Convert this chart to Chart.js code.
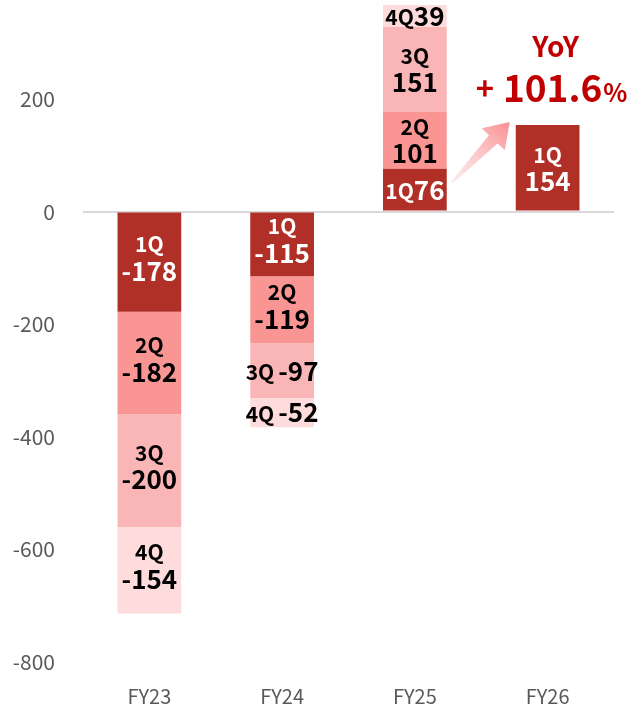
<!DOCTYPE html>
<html>
<head>
<meta charset="utf-8">
<script src="https://cdn.jsdelivr.net/npm/chart.js@4.4.1/dist/chart.umd.min.js"></script>
<style>
  html, body { margin: 0; padding: 0; background: #fff; overflow: hidden; }
  canvas { display: block; }
</style>
</head>
<body>
<canvas id="c" width="633" height="707"></canvas>
<script>
// Quarterly values per fiscal year
const years = ['FY23', 'FY24', 'FY25', 'FY26'];
const quarters = ['1Q', '2Q', '3Q', '4Q'];
const q1 = [-178, -115, 76, 154];
const q2 = [-182, -119, 101, null];
const q3 = [-200, -97, 151, null];
const q4 = [-154, -52, 39, null];
const yTicks = [200, 0, -200, -400, -600, -800];
const yoyLabel = 'YoY';
const yoyValue = '101.6';

const colors = ['#b02f27', '#f99694', '#fab5b6', '#fddcdb'];
const textColors = ['#ffffff', '#000000', '#000000', '#000000'];
const FONT = '"Noto Sans CJK JP", "Noto Sans", sans-serif';

// Quarter + value text inside each segment
const segLabels = {
    id: 'segLabels',
    afterDatasetsDraw(chart) {
        const ctx = chart.ctx;
        chart.data.datasets.forEach((ds, di) => {
            const meta = chart.getDatasetMeta(di);
            meta.data.forEach((bar, i) => {
                const v = ds.data[i];
                if (v == null) return;
                const top = Math.min(bar.y, bar.base);
                const bottom = Math.max(bar.y, bar.base);
                const h = bottom - top;
                const cx = bar.x;
                const cy = (top + bottom) / 2;
                const qText = quarters[di];
                const vText = String(v);
                ctx.save();
                ctx.fillStyle = textColors[di];
                ctx.textBaseline = 'middle';
                if (h < 56) {
                    // small segment: put it on one line
                    ctx.font = 'bold 21px ' + FONT;
                    const qw = ctx.measureText(qText).width;
                    ctx.font = 'bold 26px ' + FONT;
                    const vw = ctx.measureText(vText).width;
                    const gap = v < 0 ? 4 : 0;
                    const x = cx - (qw + gap + vw) / 2;
                    ctx.textAlign = 'left';
                    ctx.font = 'bold 21px ' + FONT;
                    ctx.fillText(qText, x, cy + 1);
                    ctx.font = 'bold 26px ' + FONT;
                    ctx.fillText(vText, x + qw + gap, cy);
                } else {
                    const up = v < 0 ? -18 : -13;
                    const down = v < 0 ? 9 : 13;
                    ctx.textAlign = 'center';
                    ctx.font = 'bold 21px ' + FONT;
                    ctx.fillText(qText, cx, cy + up);
                    ctx.font = 'bold 26px ' + FONT;
                    ctx.fillText(vText, cx, cy + down);
                }
                ctx.restore();
            });
        });
    }
};

// YoY arrow and text between FY25 and FY26
const yoyPlugin = {
    id: 'yoyPlugin',
    afterDatasetsDraw(chart) {
        const ctx = chart.ctx;
        const bars = chart.getDatasetMeta(0).data;
        const b25 = bars[2];
        const b26 = bars[3];

        // arrow
        const tx = b25.x + b25.width / 2 + 5;
        const ty = (b25.y + b25.base) / 2 - 7;
        const hx = b26.x - b26.width / 2 - 6;
        const hy = b26.y - 3;
        const ang = Math.atan2(hy - ty, hx - tx);
        const len = Math.hypot(hx - tx, hy - ty);
        const headLen = 24, shaftW = 6, headW = 16;
        ctx.save();
        ctx.translate(tx, ty);
        ctx.rotate(ang);
        const grad = ctx.createLinearGradient(0, 0, len, 0);
        grad.addColorStop(0, 'rgba(253,215,215,0.5)');
        grad.addColorStop(1, '#f98e90');
        ctx.fillStyle = grad;
        ctx.beginPath();
        ctx.moveTo(0, -1);
        ctx.lineTo(len - headLen, -shaftW);
        ctx.lineTo(len - headLen, -headW);
        ctx.lineTo(len, 0);
        ctx.lineTo(len - headLen, headW);
        ctx.lineTo(len - headLen, shaftW);
        ctx.lineTo(0, 1);
        ctx.closePath();
        ctx.fill();
        ctx.restore();

        // text
        ctx.save();
        ctx.fillStyle = '#c00000';
        ctx.textBaseline = 'alphabetic';
        ctx.textAlign = 'center';
        ctx.font = 'bold 28px ' + FONT;
        ctx.fillText(yoyLabel, b26.x + 8, b26.y - 68);
        ctx.textAlign = 'left';
        let x = b26.x - 72;
        const base = b26.y - 23;
        ctx.font = 'bold 31px ' + FONT;
        ctx.fillText('+', x, base - 2);
        x += ctx.measureText('+').width + 9;
        ctx.font = 'bold 37px ' + FONT;
        ctx.fillText(yoyValue, x, base);
        x += ctx.measureText(yoyValue).width + 1;
        ctx.font = 'bold 25px ' + FONT;
        ctx.fillText('%', x, base);
        ctx.restore();
    }
};

const datasets = [q1, q2, q3, q4].map((d, i) => ({
    label: quarters[i],
    data: d,
    backgroundColor: colors[i],
    borderWidth: 0,
    stack: 's'
}));

new Chart(document.getElementById('c'), {
    type: 'bar',
    data: { labels: years, datasets: datasets },
    options: {
        responsive: false,
        animation: false,
        layout: { padding: { top: 5, right: 19, left: 0, bottom: 0 } },
        datasets: { bar: { categoryPercentage: 1, barPercentage: 0.48 } },
        plugins: {
            legend: { display: false },
            tooltip: { enabled: false }
        },
        scales: {
            x: {
                stacked: true,
                afterFit: s => { s.height = 45; },
                grid: { display: false },
                border: { display: false },
                ticks: { color: '#595959', font: { family: FONT, size: 20 }, padding: 14 }
            },
            y: {
                stacked: true,
                min: -800,
                max: 367,
                afterBuildTicks: s => { s.ticks = yTicks.map(v => ({ value: v })); },
                afterFit: s => { s.width = 83; s.paddingTop = 0; s.paddingBottom = 0; },
                grid: {
                    color: c => (c.tick && c.tick.value === 0 ? '#d9d9d9' : 'rgba(0,0,0,0)'),
                    lineWidth: 2,
                    drawTicks: false
                },
                border: { display: false },
                ticks: { color: '#595959', font: { family: FONT, size: 21 }, padding: 28 }
            }
        }
    },
    plugins: [segLabels, yoyPlugin]
});
</script>
</body>
</html>
